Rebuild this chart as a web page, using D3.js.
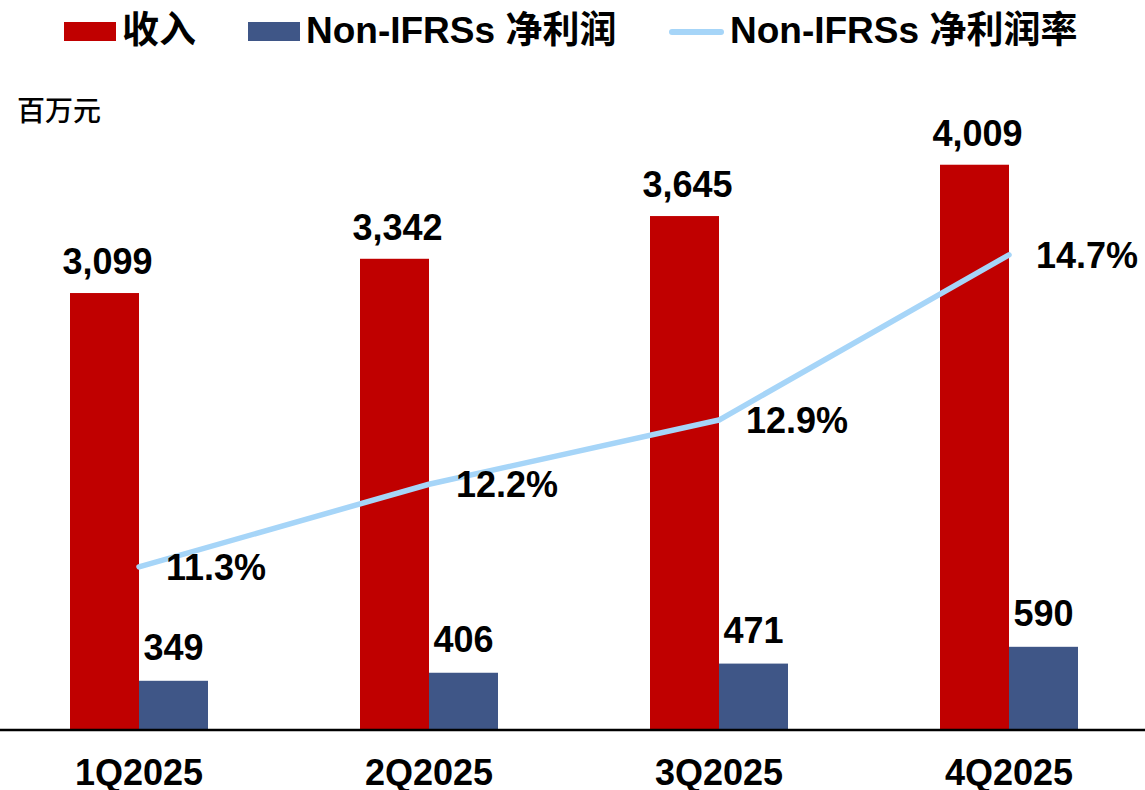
<!DOCTYPE html>
<html>
<head>
<meta charset="utf-8">
<script src="https://cdn.jsdelivr.net/npm/d3@7"></script>
<style>
    body { margin: 0; background: #fff; }
    svg text { font-family: 'Liberation Sans', Arial, 'Noto Sans CJK SC', sans-serif; }
</style>
</head>
<body>
<div id="chart"></div>
<script>
const quarters = ['1Q2025', '2Q2025', '3Q2025', '4Q2025'];
const revenue = [3099, 3342, 3645, 4009];
const netProfit = [349, 406, 471, 590];
const netMargin = [11.3, 12.2, 12.9, 14.7];

const width = 1145;
const height = 790;
const baseY = 730;

const colors = { revenue: '#C00000', profit: '#3F5687', margin: '#A6D5F8' };

const svg = d3.select('#chart').append('svg')
    .attr('width', width)
    .attr('height', height);

const data = quarters.map((q, i) => ({
    quarter: q,
    revenue: revenue[i],
    profit: netProfit[i],
    margin: netMargin[i]
}));

// category band, bars sit either side of the band centre
const x0 = d3.scaleBand()
    .domain(quarters)
    .range([-6, 1154])
    .padding(0);

const x1 = d3.scaleBand()
    .domain(['revenue', 'profit'])
    .range([x0.bandwidth() / 2 - 69, x0.bandwidth() / 2 + 69]);

const yScale = d3.scaleLinear()
    .domain([0, 5000])
    .range([baseY, baseY - 5000 * 0.141]);

const y2Scale = d3.scaleLinear()
    .domain([9.5, 17.5])
    .range([732, 732 - 8 * 91.76]);

const cx = d => x0(d.quarter) + x0.bandwidth() / 2;

const numFormat = d3.format(',');

// bars
const group = svg.append('g').attr('class', 'bars')
        .selectAll('.group').data(data)
    .enter().append('g')
        .attr('class', 'group')
        .attr('transform', d => `translate(${x0(d.quarter)},0)`);

group.append('rect')
    .attr('x', x1('revenue'))
    .attr('width', x1.bandwidth())
    .attr('y', d => yScale(d.revenue))
    .attr('height', d => yScale(0) - yScale(d.revenue))
    .attr('fill', colors.revenue);

group.append('rect')
    .attr('x', x1('profit'))
    .attr('width', x1.bandwidth())
    .attr('y', d => yScale(d.profit))
    .attr('height', d => yScale(0) - yScale(d.profit))
    .attr('fill', colors.profit);

group.append('text')
    .attr('x', x1('revenue') + x1.bandwidth() / 2 + 3)
    .attr('y', d => yScale(d.revenue) - 19)
    .attr('text-anchor', 'middle')
    .style('font-size', '36px')
    .style('font-weight', 'bold')
    .text(d => numFormat(d.revenue));

group.append('text')
    .attr('x', x1('profit') + x1.bandwidth() / 2)
    .attr('y', d => yScale(d.profit) - 21)
    .attr('text-anchor', 'middle')
    .style('font-size', '36px')
    .style('font-weight', 'bold')
    .text(d => d.profit);

// margin line
const line = d3.line()
    .x(cx)
    .y(d => y2Scale(d.margin));

svg.append('path').datum(data)
    .attr('d', line)
    .attr('fill', 'none')
    .attr('stroke', colors.margin)
    .attr('stroke-width', 5.5)
    .attr('stroke-linejoin', 'round')
    .attr('stroke-linecap', 'round');

svg.append('g').attr('class', 'margin-labels')
        .selectAll('text').data(data)
    .enter().append('text')
        .attr('x', d => cx(d) + 27)
        .attr('y', d => y2Scale(d.margin) + 13)
        .style('font-size', '36px')
        .style('font-weight', 'bold')
        .text(d => d.margin.toFixed(1) + '%');

// x axis
const xAxis = d3.axisBottom(x0).tickSize(0).tickPadding(0);

const xAxisG = svg.append('g')
    .attr('transform', `translate(0,${baseY})`)
    .call(xAxis);

xAxisG.select('.domain').remove();
xAxisG.append('line')
    .attr('x1', 0)
    .attr('x2', width)
    .attr('stroke', '#000')
    .attr('stroke-width', 2.5);

xAxisG.selectAll('.tick text')
    .attr('dy', null)
    .attr('y', 55)
    .attr('fill', '#000')
    .style('font-family', "'Liberation Sans', Arial, sans-serif")
    .style('font-size', '36px')
    .style('font-weight', 'bold');

// unit label
svg.append('text')
    .attr('x', 17)
    .attr('y', 121)
    .style('font-family', "'Noto Sans CJK SC', sans-serif")
    .style('font-size', '28px')
    .style('font-weight', 500)
    .text('百万元');

// legend
const legendItems = [
    { label: '收入', type: 'rect', color: colors.revenue, x: 64 },
    { label: 'Non-IFRSs 净利润', type: 'rect', color: colors.profit, x: 248 },
    { label: 'Non-IFRSs 净利润率', type: 'line', color: colors.margin, x: 670 }
];

const legend = svg.append('g').attr('class', 'legend')
        .selectAll('.legend-item').data(legendItems)
    .enter().append('g')
        .attr('class', 'legend-item')
        .attr('transform', d => `translate(${d.x},0)`);

legend.filter(d => d.type === 'rect').append('rect')
    .attr('y', 22)
    .attr('width', 52)
    .attr('height', 19)
    .attr('fill', d => d.color);

legend.filter(d => d.type === 'line').append('line')
    .attr('x1', 2)
    .attr('x2', 51)
    .attr('y1', 32)
    .attr('y2', 32)
    .attr('stroke', d => d.color)
    .attr('stroke-width', 6)
    .attr('stroke-linecap', 'round');

legend.append('text')
    .attr('x', d => d.type === 'rect' ? 58 : 60)
    .attr('y', 43)
    .style('font-size', '37px')
    .style('font-weight', 'bold')
    .text(d => d.label);
</script>
</body>
</html>
